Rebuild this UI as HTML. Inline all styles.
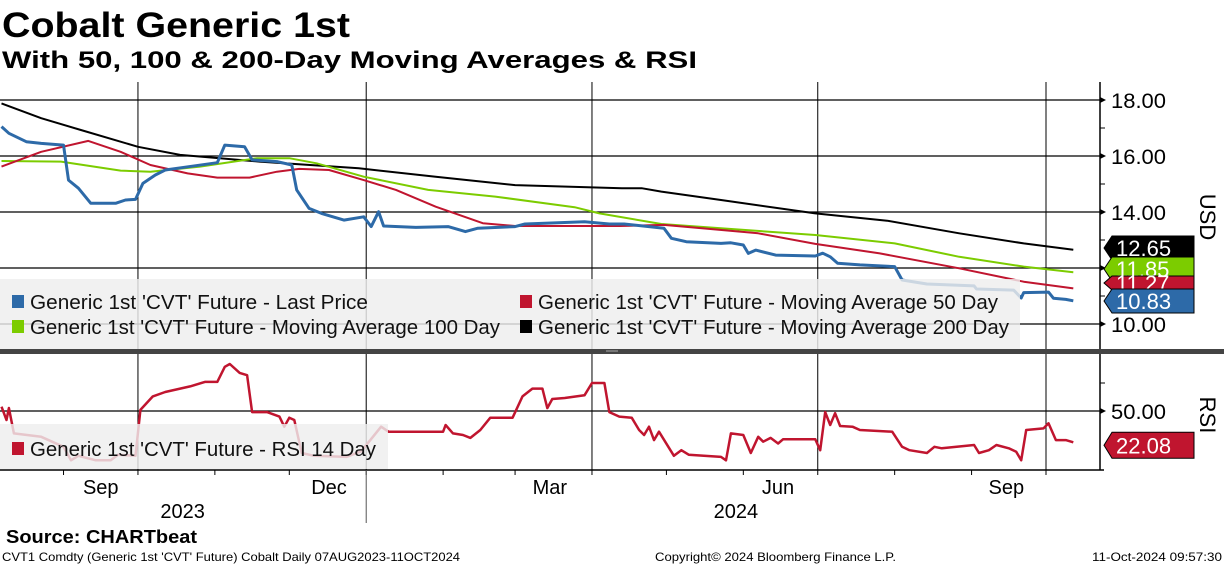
<!DOCTYPE html>
<html><head><meta charset="utf-8">
<style>
body{margin:0;background:#fff;width:1224px;height:566px;overflow:hidden;font-family:"Liberation Sans",sans-serif}
svg text{font-family:"Liberation Sans",sans-serif}
</style></head>
<body>
<svg id="chart" width="1224" height="566" viewBox="0 0 1224 566">
<text x="2" y="37" font-size="35" font-weight="bold" textLength="348" lengthAdjust="spacingAndGlyphs">Cobalt Generic 1st</text>
<text x="2" y="68" font-size="24" font-weight="bold" textLength="695" lengthAdjust="spacingAndGlyphs">With 50, 100 &amp; 200-Day Moving Averages &amp; RSI</text>
<g id="grid"></g>
<g id="series"></g>
<g id="legend"></g>
<g id="axes"></g>
<text x="6" y="543" font-size="18" font-weight="bold" textLength="191" lengthAdjust="spacingAndGlyphs">Source: CHARTbeat</text>
<text x="2" y="561" font-size="12" textLength="458" lengthAdjust="spacingAndGlyphs">CVT1 Comdty (Generic 1st 'CVT' Future) Cobalt  Daily 07AUG2023-11OCT2024</text>
<text x="655" y="561" font-size="12" textLength="241" lengthAdjust="spacingAndGlyphs">Copyright© 2024 Bloomberg Finance L.P.</text>
<text x="1092" y="561" font-size="12" textLength="130" lengthAdjust="spacingAndGlyphs">11-Oct-2024 09:57:30</text>
</svg>
<script>
const priceDays=[0,3,10,16,25,27,31,36,46,50,54,57,62,66,74,87,90,98,101,111,117,119,124,129,138,146,149,152,154,167,180,187,192,207,211,235,245,251,267,270,276,290,294,299,301,304,312,328,331,334,337,346,360,363,373,392,393,408,411,412,422,424,429,432];
const priceVals=[17.05,16.81,16.51,16.45,16.39,15.14,14.85,14.31,14.31,14.43,14.45,15.02,15.32,15.5,15.6,15.76,16.39,16.33,15.86,15.8,15.68,14.79,14.13,13.95,13.71,13.83,13.48,14.01,13.5,13.45,13.48,13.3,13.42,13.48,13.57,13.65,13.57,13.57,13.42,13.06,12.94,12.88,12.9,12.82,12.52,12.64,12.46,12.43,12.53,12.4,12.17,12.11,12.05,11.57,11.43,11.36,11.25,11.21,10.93,11.12,11.14,10.92,10.88,10.83];
const ma200Days=[0,16,32,55,72,104,144,175,207,250,258,266,290,328,357,386,412,432];
const ma200Vals=[17.88,17.35,16.93,16.33,16.04,15.8,15.56,15.26,14.96,14.85,14.85,14.73,14.43,13.95,13.69,13.24,12.88,12.65];
const ma100Days=[0,24,48,60,80,103,116,127,146,172,199,231,241,266,328,360,386,412,432];
const ma100Vals=[15.82,15.8,15.48,15.44,15.62,15.92,15.92,15.74,15.26,14.79,14.55,14.17,13.95,13.57,13.18,12.88,12.4,12.05,11.85];
const ma50Days=[0,16,35,48,60,75,87,100,111,120,132,146,159,175,194,207,249,267,305,328,354,386,412,432];
const ma50Vals=[15.62,16.15,16.54,16.15,15.68,15.38,15.23,15.23,15.44,15.54,15.5,15.14,14.79,14.19,13.6,13.5,13.5,13.54,13.24,12.86,12.52,11.99,11.51,11.27];
const rsiDays=[0,2,3,5,16,25,28,31,38,44,47,54,56,61,66,76,82,87,90,92,96,99,101,107,112,114,116,118,121,126,139,145,153,156,164,178,179,182,186,189,193,197,206,210,214,218,220,222,227,235,238,243,245,249,254,257,259,261,263,265,271,274,277,290,292,294,299,302,305,307,310,313,315,328,330,332,334,336,338,343,346,359,363,366,373,376,379,392,394,398,401,406,409,411,413,420,422,425,429,432];
const rsiVals=[53.8,42,52.7,30,27,18,6,10,6,6,11,10,51,63,67,72,76,76,89.5,92,84,82,49,49,45,36,44,42,12.5,10,9,14,36,31.5,31.5,31.5,37.5,30,28.6,26,33,44,44,63,70,70,52.6,60.7,61.6,64,75,75,49,45,44,33,28.6,36,24,31.5,10,15,11,9,6,30,28.6,12.5,27,22.6,26,21,24.7,24.7,15,49,37.5,48,36.6,36,33,31.5,18,15,12.5,18,16.7,19.6,12.5,15,19.6,16.7,13.7,6,33,34.5,39,24,24,22.08];
const priceTicks=[10,12,14,16,18];
const monthTicks=[25,55,86,116,147,178,207,238,268,299,329,360,391,421];
const monthLabels=[["Sep",40],["Dec",132],["Mar",221],["Jun",313],["Sep",405]];
const yearLabels=[["2023",73],["2024",296]];
const lastVals=[["12.65",12.65,"#000"],["11.85",11.85,"#7ccc00"],["11.27",11.27,"#c0152f"],["10.83",10.83,"#2d6aa8"]];

const NS="http://www.w3.org/2000/svg";
const X=d=>1.5+d*2.481;
const Y=v=>100+(18-v)*28;
const R=v=>467-v*1.12;
function mk(tag,attrs,parent){const e=document.createElementNS(NS,tag);for(const k in attrs)e.setAttribute(k,attrs[k]);parent.appendChild(e);return e;}
const grid=document.getElementById('grid'),series=document.getElementById('series'),legend=document.getElementById('legend'),axes=document.getElementById('axes');

priceTicks.forEach(v=>{const l=mk('line',{x1:0,x2:1100,y1:Y(v),y2:Y(v),stroke:'#000','stroke-width':1.3},grid);

});
[55,147,238,329,421].forEach(d=>{const l=mk('line',{x1:X(d),x2:X(d),y1:82,y2:470,stroke:'#000','stroke-width':1},grid);

});
const g50=mk('line',{x1:0,x2:1100,y1:R(50),y2:R(50),stroke:'#000','stroke-width':1.3},grid);



function path(days,vals,fy,color,w,name){let d='';days.forEach((dd,i)=>{d+=(i?'L':'M')+X(dd).toFixed(1)+','+fy(vals[i]).toFixed(1);});
const p=mk('path',{d:d,fill:'none',stroke:color,'stroke-width':w,'stroke-linejoin':'round'},series);

}
path(ma200Days,ma200Vals,Y,'#000',2,'ma200-line');
path(ma100Days,ma100Vals,Y,'#7ccc00',2,'ma100-line');
path(ma50Days,ma50Vals,Y,'#c0152f',2,'ma50-line');
path(priceDays,priceVals,Y,'#2d6aa8',3,'last-price-line');
path(rsiDays,rsiVals,R,'#c0152f',2.5,'rsi-line');

const lb=mk('rect',{x:0,y:279,width:1020,height:70,fill:'rgba(238,238,238,0.82)'},legend);


const entries=[[12,302,'#2d6aa8',"Generic 1st 'CVT' Future - Last Price",338],[520,302,'#c0152f',"Generic 1st 'CVT' Future - Moving Average 50 Day",460],[12,327,'#7ccc00',"Generic 1st 'CVT' Future - Moving Average 100 Day",470],[520,327,'#000',"Generic 1st 'CVT' Future - Moving Average 200 Day",471],[12,449,'#c0152f',"Generic 1st 'CVT' Future - RSI 14 Day",346]];
const rl=mk('rect',{x:0,y:424,width:388,height:45,fill:'rgba(238,238,238,0.82)'},legend);


entries.forEach(e=>{const s=mk('rect',{x:e[0],y:e[1]-7,width:12,height:13,fill:e[2]},legend);


const t=mk('text',{x:e[0]+18,y:e[1]+7,'font-size':20,fill:'#111',textLength:e[4],lengthAdjust:'spacingAndGlyphs'},legend);t.textContent=e[3];

});

const sep=mk('rect',{x:0,y:349,width:1224,height:5,fill:'#444'},axes);


mk('line',{x1:606,x2:618,y1:351,y2:351,stroke:'#aaa','stroke-width':1},axes);
const ax=mk('line',{x1:1100,x2:1100,y1:82,y2:349,stroke:'#000','stroke-width':1.5},axes);


const ax2=mk('line',{x1:1100,x2:1100,y1:354,y2:470,stroke:'#000','stroke-width':1.5},axes);


const xa=mk('line',{x1:0,x2:1104,y1:470,y2:470,stroke:'#000','stroke-width':1.5},axes);


[11,13,15,17].forEach(v=>mk('line',{x1:1100,x2:1105,y1:Y(v),y2:Y(v),stroke:'#000'},axes));
priceTicks.forEach(v=>{mk('path',{d:`M1100,${Y(v)-3}L1106,${Y(v)}L1100,${Y(v)+3}Z`,fill:'#000'},axes);
const t=mk('text',{x:1111,y:Y(v)+8,'font-size':21,textLength:55,lengthAdjust:'spacingAndGlyphs'},axes);t.textContent=v.toFixed(2);

});
mk('line',{x1:1100,x2:1105,y1:R(75),y2:R(75),stroke:'#000'},axes);
mk('path',{d:`M1100,${R(50)-3}L1106,${R(50)}L1100,${R(50)+3}Z`,fill:'#000'},axes);
const r50=mk('text',{x:1111,y:R(50)+8,'font-size':21,textLength:55,lengthAdjust:'spacingAndGlyphs'},axes);r50.textContent='50.00';


const usd=mk('text',{x:1200,y:217,'font-size':22,transform:'rotate(90 1200 217)','text-anchor':'middle'},axes);usd.textContent='USD';


const rsi=mk('text',{x:1200,y:415,'font-size':22,transform:'rotate(90 1200 415)','text-anchor':'middle'},axes);rsi.textContent='RSI';


monthTicks.forEach(d=>mk('line',{x1:X(d),x2:X(d),y1:470,y2:475,stroke:'#000'},axes));
monthLabels.forEach(m=>{const t=mk('text',{x:X(m[1]),y:494,'font-size':20,'text-anchor':'middle'},axes);t.textContent=m[0];

});
mk('line',{x1:X(147),x2:X(147),y1:470,y2:523,stroke:'#555'},axes);
yearLabels.forEach(m=>{const t=mk('text',{x:X(m[1]),y:518,'font-size':20,'text-anchor':'middle'},axes);t.textContent=m[0];

});
const tagYs=[248,269,283,301];
lastVals.forEach((lv,i)=>{const cy=tagYs[i];const h=i==2?14:24;
const p=mk('path',{d:`M1104,${cy}L1112,${cy-h/2}L1194,${cy-h/2}L1194,${cy+h/2}L1112,${cy+h/2}Z`,fill:lv[2],stroke:'#000','stroke-width':1},axes);


const t=mk('text',{x:1116,y:cy+8,'font-size':22,fill:'#fff'},axes);t.textContent=lv[0];

});
const rc=R(rsiVals[rsiVals.length-1])+3;
const rp=mk('path',{d:`M1104,${rc}L1112,${rc-13}L1194,${rc-13}L1194,${rc+13}L1112,${rc+13}Z`,fill:'#c0152f',stroke:'#000','stroke-width':1},axes);


const rt=mk('text',{x:1116,y:rc+8,'font-size':22,fill:'#fff'},axes);rt.textContent=rsiVals[rsiVals.length-1].toFixed(2);


</script>
</body></html>
